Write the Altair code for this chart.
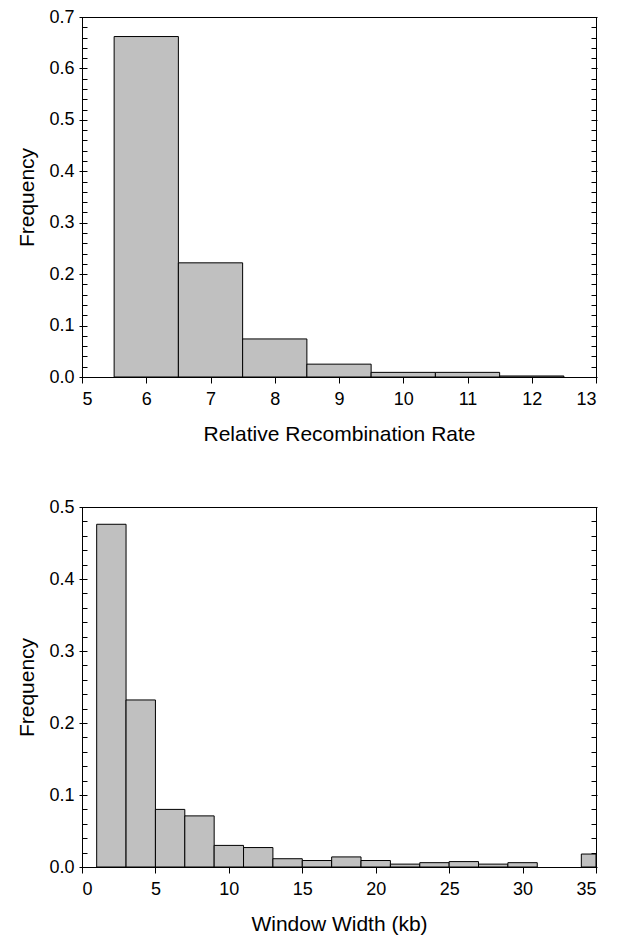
import altair as alt
import pandas as pd

# ---- data ----
rr_start = [5.5, 6.5, 7.5, 8.5, 9.5, 10.5, 11.5]
rr_end = [6.5, 7.5, 8.5, 9.5, 10.5, 11.5, 12.5]
rr_freq = [0.662, 0.222, 0.074, 0.025, 0.009, 0.009, 0.002]

ww_start = [1, 3, 5, 7, 9, 11, 13, 15, 17, 19, 21, 23, 25, 27, 29, 34]
ww_end = [3, 5, 7, 9, 11, 13, 15, 17, 19, 21, 23, 25, 27, 29, 31, 35]
ww_freq = [0.476, 0.232, 0.080, 0.071, 0.030, 0.027, 0.0115, 0.009, 0.014,
           0.009, 0.004, 0.006, 0.0075, 0.004, 0.006, 0.018]

rr_xticks = [5, 6, 7, 8, 9, 10, 11, 12, 13]
ww_xticks = [0, 5, 10, 15, 20, 25, 30, 35]
rr_yticks = [round(i * 0.02, 2) for i in range(36)]
ww_yticks = [round(i * 0.02, 2) for i in range(26)]

FONT = "Liberation Sans"
LABEL_SIZE = 18
TITLE_SIZE = 21
MAJOR = "abs(datum.value * 10 - round(datum.value * 10)) < 0.001"


def y_axis(values, side):
    common = dict(
        values=values,
        domain=False,
        grid=False,
        offset=-5,
        tickColor="black",
        tickWidth=1,
        labelColor="black",
        labelFont=FONT,
        labelFontSize=LABEL_SIZE,
        titleFont=FONT,
        titleFontSize=TITLE_SIZE,
        titleFontWeight="normal",
        titleColor="black",
    )
    if side == "left":
        return alt.Axis(
            orient="left",
            title="Frequency",
            labelExpr=f"{MAJOR} ? format(datum.value, '.1f') : ''",
            tickSize={"condition": {"test": MAJOR, "value": 8}, "value": 5},
            labelPadding=5,
            titlePadding=11,
            **common,
        )
    return alt.Axis(
        orient="right",
        title=None,
        labels=False,
        tickSize={"condition": {"test": MAJOR, "value": 6}, "value": 5},
        **common,
    )


def x_axis(values, title):
    return alt.Axis(
        values=values,
        title=title,
        format="d",
        domain=False,
        grid=False,
        tickSize=6,
        tickColor="black",
        labelColor="black",
        labelFont=FONT,
        labelFontSize=LABEL_SIZE,
        labelPadding=7,
        titleFont=FONT,
        titleFontSize=TITLE_SIZE,
        titleFontWeight="normal",
        titleColor="black",
        titlePadding=15,
    )


def panel(start, end, freq, xdom, ydom, xticks, yticks, xtitle):
    df = pd.DataFrame({"start": start, "end": end, "freq": freq})
    xs = alt.Scale(domain=xdom, nice=False, zero=False)
    ys = alt.Scale(domain=ydom, nice=False)
    bars = alt.Chart(df).mark_bar(
        color="#c0c0c0", stroke="black", strokeWidth=1, clip=True
    ).encode(
        x=alt.X("start:Q", scale=xs, axis=x_axis(xticks, xtitle)),
        x2="end:Q",
        y=alt.Y("freq:Q", scale=ys, axis=y_axis(yticks, "left")),
        y2=alt.datum(0),
    )
    mirror = alt.Chart(df).mark_rule(opacity=0).encode(
        y=alt.Y("freq:Q", scale=ys, axis=y_axis(yticks, "right")),
    )
    return alt.layer(bars, mirror).resolve_axis(y="independent").properties(
        width=514, height=360
    )


top = panel(rr_start, rr_end, rr_freq, [5, 13], [0, 0.7], rr_xticks, rr_yticks,
            "Relative Recombination Rate")
bottom = panel(ww_start, ww_end, ww_freq, [0, 35], [0, 0.5], ww_xticks, ww_yticks,
               "Window Width (kb)")

chart = alt.vconcat(top, bottom, spacing=52).properties(
    padding={"top": 7, "left": 16, "right": 10, "bottom": 2}
).configure(
    background="white",
    view=alt.ViewConfig(stroke="black", strokeWidth=1),
)

chart.save("out.html", embed_options={"renderer": "svg", "actions": False})
